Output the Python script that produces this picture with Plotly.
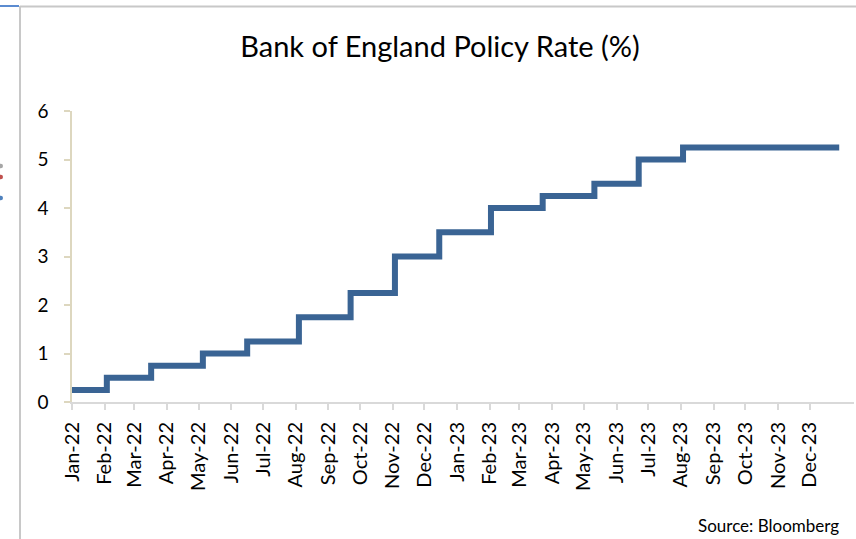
import plotly.graph_objects as go

# Bank Rate decisions (effective dates) and the resulting rate in percent
change_dates = [
    "2022-01-01", "2022-02-03", "2022-03-17", "2022-05-05", "2022-06-16",
    "2022-08-04", "2022-09-22", "2022-11-03", "2022-12-15", "2023-02-02",
    "2023-03-23", "2023-05-11", "2023-06-22", "2023-08-03", "2023-12-29",
]
rates = [
    0.25, 0.5, 0.75, 1.0, 1.25,
    1.75, 2.25, 3.0, 3.5, 4.0,
    4.25, 4.5, 5.0, 5.25, 5.25,
]

# monthly axis ticks
month_ticks = [f"{yr}-{m:02d}-01" for yr in (2022, 2023) for m in range(1, 13)]
month_labels = [f"{mon}-{yy}" for yy in ("22", "23") for mon in
                ("Jan", "Feb", "Mar", "Apr", "May", "Jun",
                 "Jul", "Aug", "Sep", "Oct", "Nov", "Dec")]

y_ticks = [0, 1, 2, 3, 4, 5, 6]

W, H = 856, 539
L, R, T, B = 72, 2, 111, 137
PW, PH = W - L - R, H - T - B


def px(x):
    return (x - L) / PW


def py(y):
    return (H - B - y) / PH


FONT = "Lato, Calibri, sans-serif"
LINE_BLUE = "#3A6494"

fig = go.Figure()
fig.add_trace(go.Scatter(
    x=change_dates, y=rates, mode="lines",
    line=dict(shape="hv", color=LINE_BLUE, width=6),
    hoverinfo="x+y", showlegend=False,
))

# neighbouring frame edges and legend dots on the left
shapes = [
    dict(type="line", xref="paper", yref="paper", x0=px(20), x1=px(856), y0=py(6.5), y1=py(6.5),
         line=dict(color="#C8C8C8", width=2)),
    dict(type="line", xref="paper", yref="paper", x0=px(20), x1=px(20), y0=py(6), y1=py(539),
         line=dict(color="#C8C8C8", width=2)),
    dict(type="line", xref="paper", yref="paper", x0=px(0), x1=px(19), y0=py(6), y1=py(6),
         line=dict(color="#5B8BD0", width=2)),
]
for cy, col in [(166, "#A6A6A6"), (177, "#C0504D"), (198, "#4F81BD")]:
    shapes.append(dict(type="circle", xref="paper", yref="paper",
                       x0=px(-1.5), x1=px(3), y0=py(cy - 2.2), y1=py(cy + 2.2),
                       fillcolor=col, line=dict(width=0)))

fig.update_layout(
    width=W, height=H,
    margin=dict(l=L, r=R, t=T, b=B, pad=0),
    paper_bgcolor="white", plot_bgcolor="white",
    font=dict(family=FONT, color="#000000"),
    title=dict(text="Bank of England Policy Rate (%)", x=440 / W, xanchor="center",
               y=1 - 47 / H, yanchor="middle", font=dict(size=29, family=FONT, color="#000000")),
    xaxis=dict(
        type="date", range=["2022-01-01", "2024-01-12"],
        tickmode="array", tickvals=month_ticks, ticktext=month_labels,
        tickangle=-90, ticks="outside", ticklen=6, tickcolor="#D9D9D9", tickwidth=1.5,
        ticklabelstandoff=4,
        showline=True, linecolor="#D9D9D9", linewidth=2,
        showgrid=False, zeroline=False,
        tickfont=dict(size=20, family=FONT, color="#000000"),
    ),
    yaxis=dict(
        range=[0, 6], tickvals=y_ticks, ticks="outside", ticklen=6,
        tickcolor="#DDD7BF", tickwidth=1.5, ticklabelstandoff=12,
        showline=True, linecolor="#DDD7BF", linewidth=1.5,
        showgrid=False, zeroline=False,
        tickfont=dict(size=19, family=FONT, color="#000000"),
    ),
    shapes=shapes,
    annotations=[dict(
        text="Source: Bloomberg", xref="paper", yref="paper",
        x=px(841), y=py(525), xanchor="right", yanchor="middle",
        showarrow=False, font=dict(size=17, family=FONT, color="#000000"),
    )],
)

fig.write_html("out.html")
